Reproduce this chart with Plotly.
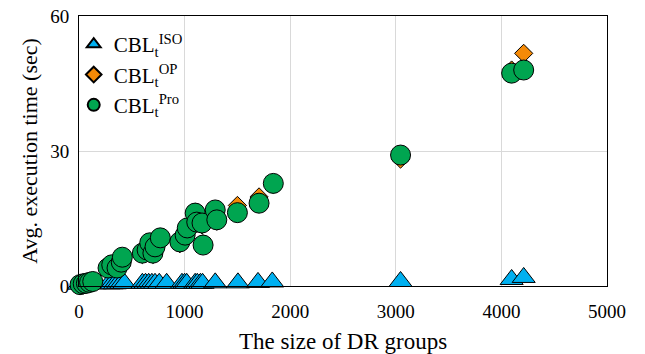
import plotly.graph_objects as go

# Data
pro_x = [10, 40, 70, 100, 130, 275, 310, 360, 400, 410, 600, 645, 670, 700, 720, 770,
         955, 1005, 1025, 1100, 1115, 1165, 1175, 1290, 1305, 1500, 1705, 1840, 3045, 4097, 4211]
pro_y = [0.3, 0.5, 0.6, 0.8, 1.0, 4.0, 4.7, 4.0, 5.3, 6.4, 7.3, 8.0, 9.6, 7.3, 8.7, 10.7,
         9.8, 11.3, 12.9, 16.2, 14.2, 14.0, 9.1, 16.9, 14.7, 16.3, 18.4, 22.8, 29.1, 47.3, 48.0]

op_x = [10, 40, 70, 100, 130, 275, 310, 360, 400, 410, 600, 645, 670, 700, 720, 770,
        955, 1005, 1025, 1100, 1115, 1165, 1175, 1290, 1305, 1500, 1705, 1840, 3045, 4097, 4211]
op_y = [0.2, 0.4, 0.5, 0.7, 0.9, 3.8, 4.5, 3.9, 5.0, 6.2, 7.0, 7.8, 9.3, 7.0, 8.4, 10.4,
        9.4, 11.0, 12.6, 16.4, 14.0, 13.6, 9.4, 16.6, 14.4, 17.9, 19.8, 22.6, 28.2, 48.0, 51.7]

iso_x = [0, 60, 150, 280, 310, 340, 370, 400, 430, 600, 630, 660, 690, 720, 760, 830,
         975, 1000, 1020, 1100, 1120, 1150, 1170, 1290, 1505, 1695, 1830, 3045, 4097, 4211]
iso_y = [0.4, 0.4, 0.5, 0.5, 0.5, 0.5, 0.6, 0.6, 0.6, 0.6, 0.6, 0.6, 0.6, 0.6, 0.6, 0.6,
         0.6, 0.6, 0.6, 0.6, 0.6, 0.6, 0.6, 0.7, 0.7, 0.8, 0.9, 1.0, 1.45, 1.9]

x_ticks = [0, 1000, 2000, 3000, 4000, 5000]
y_ticks = [0, 30, 60]

FONT = "Liberation Serif, Times New Roman, serif"

fig = go.Figure()
fig.add_trace(go.Scatter(
    x=iso_x, y=iso_y, mode="markers", name="CBL<sub>t</sub><sup>ISO</sup>",
    marker=dict(symbol="triangle-up", size=20, color="#00B0F0",
                line=dict(color="black", width=1)),
    cliponaxis=False))
fig.add_trace(go.Scatter(
    x=op_x, y=op_y, mode="markers", name="CBL<sub>t</sub><sup>OP</sup>",
    marker=dict(symbol="diamond", size=14, color="#F58A07",
                line=dict(color="black", width=1)),
    cliponaxis=False))
fig.add_trace(go.Scatter(
    x=pro_x, y=pro_y, mode="markers", name="CBL<sub>t</sub><sup>Pro</sup>",
    marker=dict(symbol="circle", size=20, color="#00A550",
                line=dict(color="black", width=1)),
    cliponaxis=False))

fig.update_layout(
    width=645, height=354,
    margin=dict(l=79, r=38, t=16, b=68, autoexpand=False),
    paper_bgcolor="white", plot_bgcolor="white",
    font=dict(family=FONT, color="black", size=19),
    legend=dict(x=-0.01, y=0.97, xanchor="left", yanchor="top",
                bgcolor="rgba(0,0,0,0)", font=dict(size=21, family=FONT),
                itemsizing="constant", tracegroupgap=0),
    showlegend=True,
)
fig.update_xaxes(
    range=[0, 5000], tickvals=x_ticks, ticktext=[str(v) for v in x_ticks],
    showgrid=True, gridcolor="#D9D9D9", gridwidth=1,
    showline=True, linecolor="black", linewidth=1, mirror=True,
    ticks="", zeroline=False, automargin=False, ticklabelstandoff=8,
    title=dict(text="The size of DR groups", font=dict(size=23, family=FONT), standoff=15),
    tickfont=dict(size=19, family=FONT),
)
fig.update_yaxes(
    range=[0, 60], tickvals=y_ticks, ticktext=[str(v) for v in y_ticks],
    showgrid=True, gridcolor="#D9D9D9", gridwidth=1,
    showline=True, linecolor="black", linewidth=1, mirror=True,
    ticks="", zeroline=False, automargin=False, ticklabelstandoff=5,
    title=dict(text="Avg. execution time (sec)", font=dict(size=22, family=FONT), standoff=6),
    tickfont=dict(size=19, family=FONT),
)

fig.write_html("out.html", config={"displayModeBar": False},
               post_script="document.body.style.margin='0px';")
